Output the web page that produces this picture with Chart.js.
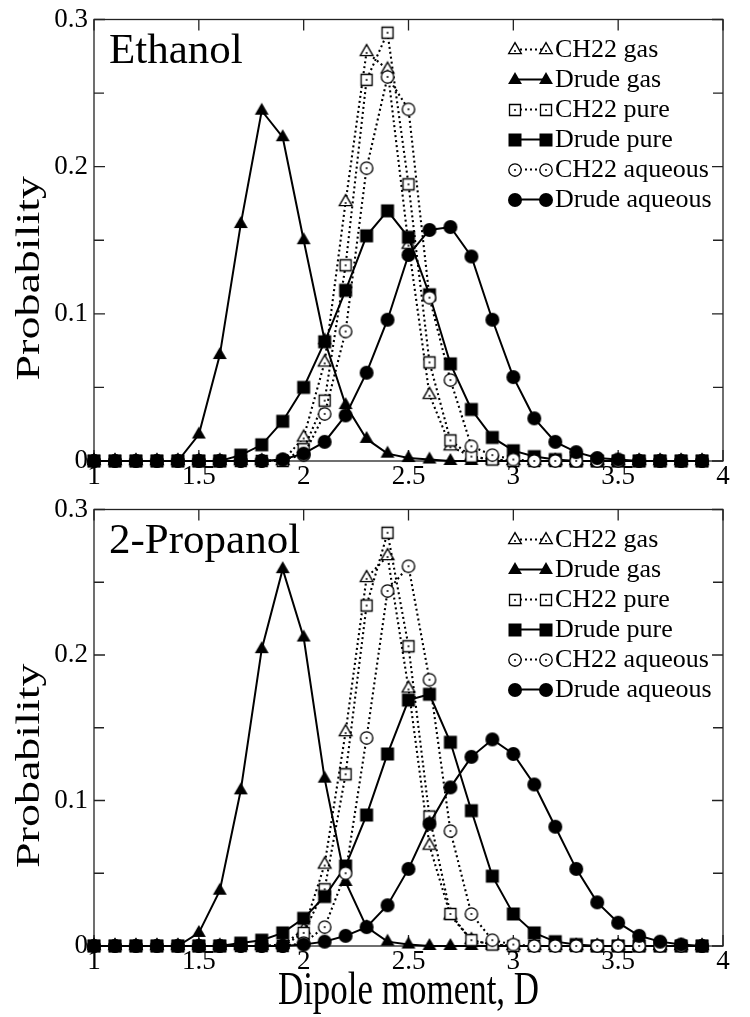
<!DOCTYPE html>
<html><head><meta charset="utf-8">
<script src="https://cdn.jsdelivr.net/npm/chart.js@4.4.1/dist/chart.umd.min.js"></script>
<style>
html,body{margin:0;padding:0;background:#fff;}
#wrap{position:relative;width:750px;height:1017px;background:#fff;}
canvas{position:absolute;left:0;}
</style></head><body>
<div id="wrap">
<canvas id="cTop" width="750" height="490" style="top:0;width:750px;height:490px"></canvas>
<canvas id="cBot" width="750" height="527" style="top:490px;width:750px;height:527px"></canvas>
</div>
<script>
// ---------- data ----------
const dipole = [1.0,1.1,1.2,1.3,1.4,1.5,1.6,1.7,1.8,1.9,2.0,2.1,2.2,2.3,2.4,2.5,2.6,2.7,2.8,2.9,3.0,3.1,3.2,3.3,3.4,3.5,3.6,3.7,3.8,3.9];
const seriesLabels = ['CH22 gas','Drude gas','CH22 pure','Drude pure','CH22 aqueous','Drude aqueous'];
const panelNames = ['Ethanol','2-Propanol'];
const yTitle = 'Probability';
const xTitle = 'Dipole moment, D';
const xTicks = [1,1.5,2,2.5,3,3.5,4];
const yTicks = [0,0.1,0.2,0.3];
const yMinorTicks = [0.05,0.15,0.25];

// Ethanol
const ethCH22Gas    = [0,0,0,0,0,0,0,0,0,0, 0.016,0.067,0.176,0.278,0.266,0.147,0.045,0.010,0.003,0.001, 0,0,0,0,0,0,0,0,0,0];
const ethDrudeGas   = [0,0,0,0,0, 0.018,0.072,0.161,0.238,0.220,0.150,0.082,0.038,0.015,0.005,0.002,0.001, 0,0,0,0,0,0,0,0,0,0,0,0,0];
const ethCH22Pure   = [0,0,0,0,0,0,0,0,0,0, 0.008,0.041,0.133,0.259,0.291,0.188,0.067,0.014,0.003,0.001, 0,0,0,0,0,0,0,0,0,0];
const ethDrudePure  = [0,0,0,0,0,0,0, 0.004,0.011,0.027,0.050,0.081,0.116,0.153,0.170,0.152,0.113,0.066,0.035,0.016,0.007,0.003,0.001, 0,0,0,0,0,0,0];
const ethCH22Aq     = [0,0,0,0,0,0,0,0,0, 0.001,0.004,0.032,0.088,0.199,0.261,0.239,0.111,0.055,0.010,0.004,0.001, 0,0,0,0,0,0,0,0,0];
const ethDrudeAq    = [0,0,0,0,0,0,0,0,0, 0.001,0.005,0.013,0.031,0.060,0.096,0.140,0.157,0.159,0.139,0.096,0.057,0.029,0.013,0.006,0.002,0.001, 0,0,0,0];

// 2-Propanol
const proCH22Gas    = [0,0,0,0,0,0,0,0,0, 0.001,0.011,0.056,0.147,0.253,0.268,0.177,0.069,0.021,0.004,0.001, 0,0,0,0,0,0,0,0,0,0];
const proDrudeGas   = [0,0,0,0,0, 0.009,0.038,0.107,0.204,0.259,0.212,0.115,0.044,0.013,0.003,0.001, 0,0,0,0,0,0,0,0,0,0,0,0,0,0];
const proCH22Pure   = [0,0,0,0,0,0,0,0,0,0, 0.009,0.039,0.118,0.234,0.284,0.206,0.089,0.022,0.004,0.001, 0,0,0,0,0,0,0,0,0,0];
const proDrudePure  = [0,0,0,0,0,0,0, 0.002,0.004,0.009,0.019,0.034,0.055,0.090,0.132,0.169,0.173,0.140,0.093,0.048,0.022,0.009,0.003,0.001, 0,0,0,0,0,0];
const proCH22Aq     = [0,0,0,0,0,0,0,0,0,0, 0.002,0.013,0.050,0.143,0.244,0.261,0.183,0.079,0.022,0.004,0.001, 0,0,0,0,0,0,0,0,0];
const proDrudeAq    = [0,0,0,0,0,0,0,0,0,0, 0.001,0.003,0.007,0.013,0.028,0.053,0.084,0.109,0.130,0.142,0.132,0.111,0.082,0.053,0.030,0.016,0.007,0.003,0.001,0];

// ---------- styling ----------
const SERIF = "'Liberation Serif','Times New Roman',serif";
Chart.defaults.font.family = SERIF;
Chart.defaults.color = '#000';

function makeMarker(shape, filled) {
  const s = 20, m = s / 2;
  const c = document.createElement('canvas');
  c.width = s; c.height = s;
  const g = c.getContext('2d');
  g.beginPath();
  if (shape === 'tri') {
    const r = filled ? 8 : 7.3;
    g.moveTo(m, m - r); g.lineTo(m + r * 0.866, m + r * 0.5); g.lineTo(m - r * 0.866, m + r * 0.5); g.closePath();
  } else if (shape === 'sq') {
    const h = filled ? 6.5 : 5.5;
    g.rect(m - h, m - h, 2 * h, 2 * h);
  } else {
    const r = filled ? 7 : 6.2;
    g.arc(m, m, r, 0, Math.PI * 2);
  }
  if (filled) { g.fillStyle = '#000'; g.fill(); }
  else {
    g.fillStyle = '#fff'; g.fill();
    g.lineWidth = 1.35; g.strokeStyle = '#000'; g.stroke();
    g.beginPath(); g.arc(m, shape === 'tri' ? m + 1 : m, 1.0, 0, Math.PI * 2); g.fillStyle = '#000'; g.fill();
  }
  return c;
}
const markerSpec = [['tri',false],['tri',true],['sq',false],['sq',true],['circ',false],['circ',true]];
const markers = markerSpec.map(([s, f]) => makeMarker(s, f));

const fmt = v => String(+Number(v).toFixed(2));

const framePlugin = {
  id: 'frameTicks',
  beforeDatasetsDraw(chart) {
    const {ctx, chartArea: a, scales: {x, y}} = chart;
    ctx.save();
    ctx.strokeStyle = '#222'; ctx.lineWidth = 1.3;
    ctx.strokeRect(a.left, a.top, a.right - a.left, a.bottom - a.top);
    ctx.beginPath();
    xTicks.forEach(v => {
      const px = x.getPixelForValue(v);
      ctx.moveTo(px, a.bottom); ctx.lineTo(px, a.bottom - 11);
      ctx.moveTo(px, a.top); ctx.lineTo(px, a.top + 11);
    });
    yTicks.forEach(v => {
      const py = y.getPixelForValue(v);
      ctx.moveTo(a.left, py); ctx.lineTo(a.left + 11, py);
      ctx.moveTo(a.right, py); ctx.lineTo(a.right - 11, py);
    });
    yMinorTicks.forEach(v => {
      const py = y.getPixelForValue(v);
      ctx.moveTo(a.left, py); ctx.lineTo(a.left + 10, py);
      ctx.moveTo(a.right, py); ctx.lineTo(a.right - 10, py);
    });
    ctx.stroke();
    ctx.restore();
  }
};

const annotPlugin = {
  id: 'panelAnnot',
  afterDatasetsDraw(chart, args, opts) {
    const {ctx, chartArea: a} = chart;
    ctx.save();
    ctx.fillStyle = '#000';
    // panel name
    ctx.font = '43px ' + SERIF;
    ctx.textBaseline = 'alphabetic';
    ctx.textAlign = 'left';
    ctx.fillText(opts.name, a.left + 15, a.top + 43);
    // y-axis title: condensed serif, placed a little below the centre, as in the original
    ctx.save();
    ctx.translate(30, (a.top + a.bottom) / 2 + 38);
    ctx.rotate(-Math.PI / 2);
    ctx.scale(1.0, 0.74);
    ctx.font = '46px ' + SERIF;
    ctx.textAlign = 'center';
    ctx.textBaseline = 'middle';
    ctx.fillText(yTitle, 0, 0);
    ctx.restore();
    // x-axis title (bottom panel only), condensed serif
    if (opts.xTitle) {
      ctx.save();
      ctx.translate((a.left + a.right) / 2, a.bottom + 58);
      ctx.scale(0.76, 1.0);
      ctx.font = '46px ' + SERIF;
      ctx.textAlign = 'center';
      ctx.textBaseline = 'alphabetic';
      ctx.fillText(xTitle, 0, 0);
      ctx.restore();
    }
    // legend: marker - line - marker, then text
    ctx.font = '26px ' + SERIF;
    ctx.textBaseline = 'middle';
    ctx.textAlign = 'left';
    const x1 = a.right - 208, x2 = a.right - 177, xt = a.right - 168;
    chart.data.datasets.forEach((ds, i) => {
      const yy = a.top + 30 + 30 * i;
      ctx.beginPath();
      ctx.setLineDash(ds.borderDash || []);
      ctx.lineWidth = ds.borderWidth;
      ctx.strokeStyle = '#000';
      ctx.moveTo(x1, yy); ctx.lineTo(x2, yy); ctx.stroke();
      ctx.setLineDash([]);
      const img = ds.pointStyle;
      ctx.drawImage(img, Math.round(x1 - img.width / 2), Math.round(yy - img.height / 2));
      ctx.drawImage(img, Math.round(x2 - img.width / 2), Math.round(yy - img.height / 2));
      ctx.fillText(ds.label, xt, yy + 1);
    });
    ctx.restore();
  }
};

function buildDatasets(series) {
  return series.map((vals, i) => {
    const filled = markerSpec[i][1];
    return {
      label: seriesLabels[i],
      data: dipole.map((d, k) => ({x: d, y: vals[k]})),
      borderColor: '#000',
      backgroundColor: '#000',
      borderWidth: filled ? 2 : 2.1,
      borderDash: filled ? [] : [2, 3],
      borderCapStyle: 'butt',
      pointStyle: markers[i],
      pointRadius: 6,
      pointHoverRadius: 6,
      tension: 0,
      clip: false,
      order: 6 - i
    };
  });
}

function makeChart(id, name, series, isBottom) {
  const top = isBottom ? 14 : 18;
  const xh = isBottom ? 71 : 29;
  return new Chart(document.getElementById(id), {
    type: 'line',
    data: {datasets: buildDatasets(series)},
    plugins: [framePlugin, annotPlugin],
    options: {
      responsive: false,
      animation: false,
      events: [],
      layout: {padding: {left: 0, right: 27, top: top, bottom: 0}},
      plugins: {
        legend: {display: false},
        tooltip: {enabled: false},
        panelAnnot: {name: name, xTitle: isBottom}
      },
      scales: {
        x: {
          type: 'linear', min: 1, max: 4,
          grid: {display: false, drawTicks: false},
          border: {display: false},
          ticks: {stepSize: 0.5, callback: fmt, padding: 2, maxRotation: 0,
                  font: {size: 27, lineHeight: 1.0}, color: '#000'},
          title: {display: false},
          afterFit: s => { s.height = xh; }
        },
        y: {
          type: 'linear', min: 0, max: 0.3,
          grid: {display: false, drawTicks: false},
          border: {display: false},
          ticks: {stepSize: 0.1, callback: fmt, padding: 6,
                  font: {size: 27, lineHeight: 1.0}, color: '#000'},
          title: {display: false},
          afterFit: s => { s.width = 94; }
        }
      }
    }
  });
}

makeChart('cTop', panelNames[0],
  [ethCH22Gas, ethDrudeGas, ethCH22Pure, ethDrudePure, ethCH22Aq, ethDrudeAq], false);
makeChart('cBot', panelNames[1],
  [proCH22Gas, proDrudeGas, proCH22Pure, proDrudePure, proCH22Aq, proDrudeAq], true);
</script>
</body></html>
